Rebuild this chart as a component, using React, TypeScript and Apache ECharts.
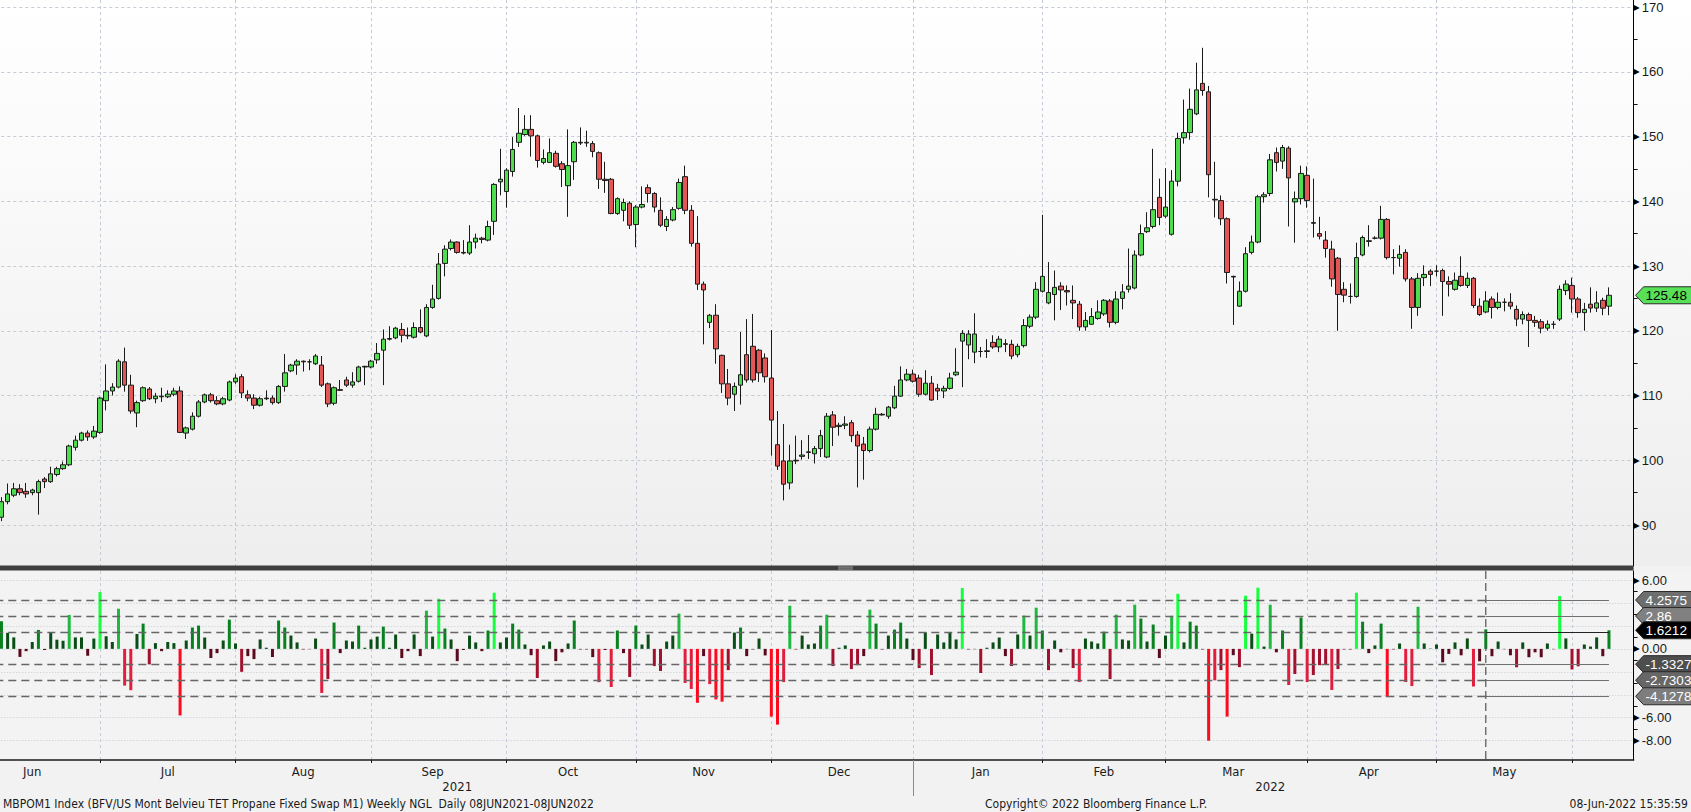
import React, { useEffect, useRef } from 'react';
import * as echarts from 'echarts';

// ---------- categories ----------
const START_DATE = '2021-06-08';
const CATEGORY_COUNT = 267;
function weekdays(start: string, count: number): string[] {
  const out: string[] = [];
  const d = new Date(start + 'T00:00:00Z');
  while (out.length < count) {
    const wd = d.getUTCDay();
    if (wd !== 0 && wd !== 6) out.push(d.toISOString().slice(0, 10));
    d.setUTCDate(d.getUTCDate() + 1);
  }
  return out;
}
const DATES = weekdays(START_DATE, CATEGORY_COUNT);

// ---------- price candles: [open, high, low, close] ----------
const OHLC: number[][] = [
  [90.6, 91.8, 90.2, 91.2], [91.2, 94.3, 90.6, 93.6], [93.6, 96.4, 93.2, 94.8], [94.6, 96.5, 94.3, 95.6], [95.6, 96.3, 94.6, 95.0],
  [95.2, 96.5, 94.2, 94.8], [95.0, 95.6, 94.6, 95.4], [95.0, 97.0, 91.6, 96.7], [97.1, 97.4, 95.7, 96.7], [96.7, 99.0, 96.5, 97.9],
  [97.8, 99.0, 97.5, 98.7], [98.7, 99.8, 98.5, 99.3], [99.3, 102.4, 99.1, 102.2], [102.0, 103.8, 101.5, 103.1], [103.1, 104.4, 102.9, 104.2],
  [104.2, 104.6, 103.0, 103.6], [103.6, 105.3, 103.3, 104.5], [104.3, 109.8, 104.1, 109.6], [109.2, 114.8, 107.7, 110.7], [110.7, 111.9, 110.0, 111.3],
  [111.3, 115.6, 111.1, 115.3], [115.2, 117.4, 110.6, 111.6], [111.6, 113.2, 107.2, 107.6], [107.3, 109.2, 105.1, 108.9], [109.2, 111.4, 109.0, 111.2],
  [111.0, 111.3, 109.3, 109.5], [109.5, 110.4, 108.8, 109.9], [109.9, 111.2, 109.0, 109.8], [109.8, 110.8, 109.6, 110.2], [110.2, 111.2, 109.9, 110.7],
  [110.7, 111.4, 104.2, 104.3], [104.2, 105.2, 103.3, 105.0], [104.8, 107.4, 104.6, 106.8], [106.8, 109.3, 106.6, 109.0], [109.0, 110.3, 108.8, 110.1],
  [110.1, 110.4, 108.9, 109.2], [109.2, 109.9, 108.5, 108.7], [108.7, 109.8, 108.5, 109.5], [109.3, 112.3, 109.1, 112.1], [112.1, 113.3, 111.8, 112.7],
  [112.9, 113.3, 109.6, 110.4], [110.1, 110.8, 109.1, 109.6], [109.6, 110.2, 107.9, 108.5], [108.5, 109.8, 108.3, 109.5], [109.5, 110.8, 109.3, 109.6],
  [109.6, 110.0, 108.6, 108.9], [108.9, 111.6, 108.7, 111.4], [111.4, 116.4, 110.6, 113.5], [113.8, 114.9, 113.6, 114.7], [114.7, 115.6, 113.2, 115.3],
  [115.3, 115.4, 113.7, 115.2], [115.2, 115.6, 113.9, 115.2], [114.9, 116.4, 114.7, 116.1], [114.7, 116.1, 111.3, 111.6], [111.8, 112.0, 108.2, 108.7],
  [108.8, 111.4, 108.5, 111.2], [110.9, 112.4, 110.7, 110.8], [112.4, 112.9, 111.3, 111.6], [111.6, 113.6, 111.2, 112.1], [112.2, 114.6, 112.0, 114.4],
  [114.4, 114.6, 111.6, 114.5], [114.4, 115.5, 114.2, 115.3], [115.5, 118.1, 114.9, 116.5], [117.0, 120.2, 111.6, 118.7], [118.7, 120.7, 118.5, 118.8],
  [118.9, 120.6, 118.7, 120.4], [120.2, 121.2, 118.2, 119.3], [119.3, 120.5, 118.7, 119.2], [119.0, 121.3, 118.8, 120.5], [120.5, 123.3, 119.6, 119.8],
  [119.2, 124.1, 119.0, 123.6], [123.6, 127.1, 123.4, 124.9], [125.0, 132.0, 124.8, 130.3], [130.4, 133.2, 128.4, 132.6], [132.7, 134.1, 132.4, 133.7],
  [133.7, 133.8, 131.9, 132.1], [132.1, 134.0, 131.8, 132.0], [132.0, 136.3, 131.7, 133.7], [133.7, 135.0, 132.7, 134.3], [134.3, 134.5, 133.5, 134.1],
  [134.0, 137.0, 133.8, 136.1], [136.9, 142.8, 134.8, 142.6], [143.0, 148.1, 140.9, 143.4], [141.5, 145.1, 139.0, 144.8], [144.6, 149.9, 143.8, 148.0],
  [149.1, 154.4, 148.4, 150.5], [150.3, 153.3, 150.1, 151.1], [151.1, 153.3, 146.9, 150.1], [150.1, 150.3, 145.2, 146.3], [146.0, 148.0, 145.7, 146.6],
  [146.0, 149.7, 145.9, 147.5], [147.4, 147.8, 145.2, 145.4], [145.8, 146.2, 142.2, 144.9], [142.4, 151.1, 137.6, 145.5], [146.1, 149.3, 143.3, 149.1],
  [149.1, 151.4, 148.7, 149.0], [149.0, 150.9, 148.4, 149.1], [148.9, 149.3, 146.8, 147.7], [147.5, 147.7, 141.9, 143.4], [143.4, 146.1, 141.3, 143.2],
  [143.4, 143.6, 138.0, 138.1], [138.1, 140.6, 137.9, 140.4], [138.6, 140.4, 136.9, 139.8], [139.7, 140.0, 135.7, 136.3], [136.4, 139.4, 132.9, 139.1],
  [139.1, 142.3, 138.9, 139.5], [142.1, 142.6, 139.8, 141.2], [141.2, 141.4, 138.3, 139.1], [138.6, 140.6, 136.0, 136.3], [136.1, 137.7, 135.4, 137.2],
  [137.1, 139.1, 136.9, 138.7], [138.9, 143.5, 138.7, 142.9], [143.8, 145.5, 138.0, 138.6], [138.6, 139.4, 133.0, 133.5], [133.5, 137.7, 126.3, 127.2],
  [127.2, 127.6, 117.9, 126.3], [121.3, 122.6, 120.4, 122.4], [122.4, 124.1, 114.9, 117.2], [116.2, 116.3, 110.4, 111.8], [111.8, 114.1, 108.5, 109.6],
  [110.2, 112.0, 107.6, 111.4], [111.6, 119.8, 108.6, 113.2], [116.3, 121.8, 112.0, 112.4], [117.6, 122.6, 112.0, 112.4], [117.0, 117.2, 112.1, 113.5],
  [115.8, 116.5, 112.0, 112.9], [112.7, 120.1, 100.7, 106.2], [102.4, 107.6, 98.5, 99.1], [99.9, 105.6, 93.8, 96.3], [96.5, 102.4, 95.5, 99.9],
  [100.0, 103.8, 99.4, 99.9], [100.6, 103.1, 100.1, 100.8], [101.2, 103.9, 100.2, 101.3], [101.0, 102.2, 99.5, 101.8], [101.8, 104.7, 100.5, 103.8],
  [100.5, 107.3, 100.3, 106.8], [107.0, 107.6, 102.2, 105.1], [105.2, 105.8, 103.8, 105.4], [105.4, 106.8, 104.8, 105.6], [105.8, 106.2, 102.8, 103.8],
  [103.9, 104.5, 95.8, 102.2], [102.5, 103.6, 97.0, 101.5], [101.5, 105.2, 101.2, 104.8], [104.8, 108.1, 104.6, 107.1], [107.1, 107.3, 106.9, 107.0],
  [106.8, 108.4, 106.4, 108.2], [108.1, 111.5, 107.9, 109.9], [109.9, 114.5, 109.8, 112.4], [112.4, 114.1, 112.2, 113.3], [113.3, 114.0, 112.0, 112.2],
  [112.7, 113.2, 109.8, 110.2], [110.2, 113.9, 110.0, 111.9], [111.9, 113.0, 109.2, 109.3], [111.1, 111.8, 109.3, 110.7], [110.7, 111.5, 109.6, 111.1],
  [111.1, 113.5, 110.9, 112.7], [113.2, 117.3, 113.0, 113.6], [118.4, 120.1, 111.3, 119.6], [117.8, 120.1, 115.6, 119.5], [116.7, 122.7, 115.0, 119.5],
  [116.8, 117.5, 115.9, 116.8], [116.8, 118.7, 115.8, 116.9], [118.2, 119.3, 117.2, 117.5], [117.5, 119.2, 116.7, 118.7], [118.0, 118.7, 116.7, 117.9],
  [117.9, 118.6, 115.6, 116.1], [116.3, 118.0, 115.9, 117.6], [117.7, 121.8, 117.4, 120.8], [120.7, 122.5, 120.4, 122.1], [122.1, 127.5, 121.8, 126.4],
  [126.1, 137.9, 125.9, 128.4], [124.3, 130.6, 124.1, 125.9], [125.6, 129.3, 121.6, 126.7], [126.9, 127.5, 123.2, 126.3], [126.2, 127.0, 123.9, 126.0],
  [124.7, 127.0, 121.8, 124.3], [124.1, 124.6, 120.0, 120.6], [120.6, 122.9, 120.0, 121.6], [121.0, 123.5, 120.9, 122.2], [121.9, 124.7, 121.7, 122.9],
  [122.6, 124.9, 122.3, 124.7], [124.6, 124.9, 120.5, 121.3], [121.3, 126.1, 121.0, 124.9], [125.0, 127.2, 123.3, 126.0], [126.4, 132.7, 125.9, 126.9],
  [126.6, 132.4, 126.4, 131.7], [131.7, 136.4, 131.5, 135.0], [135.3, 138.3, 135.1, 135.9], [136.1, 148.1, 135.8, 138.7], [140.6, 143.5, 136.3, 137.5],
  [137.7, 145.1, 137.4, 139.1], [134.9, 144.8, 134.7, 143.1], [143.1, 150.6, 142.3, 149.7], [149.8, 155.7, 148.9, 150.6], [150.6, 157.4, 149.5, 154.2],
  [153.5, 161.4, 153.3, 157.2], [158.2, 163.7, 156.3, 157.1], [156.9, 157.8, 140.6, 144.1], [140.3, 146.1, 137.5, 140.2], [140.1, 140.9, 136.3, 137.3],
  [137.3, 137.5, 127.3, 129.0], [128.4, 128.5, 120.9, 128.3], [123.8, 127.6, 123.7, 126.1], [126.1, 132.9, 125.9, 131.9], [132.1, 134.7, 131.8, 133.7],
  [133.7, 141.0, 133.5, 140.7], [140.7, 141.4, 139.8, 141.0], [141.2, 147.3, 140.8, 146.4], [147.5, 148.3, 144.6, 146.0], [146.2, 148.7, 145.0, 148.3],
  [148.2, 148.5, 136.1, 143.6], [139.9, 141.5, 133.6, 140.4], [140.4, 145.5, 139.5, 144.3], [144.0, 145.4, 139.0, 140.1], [136.7, 143.5, 134.4, 136.6],
  [135.0, 137.6, 134.1, 134.6], [134.0, 135.4, 131.3, 132.7], [132.6, 133.9, 126.8, 128.0], [131.2, 131.4, 120.0, 125.6], [126.4, 127.5, 124.4, 125.5],
  [125.3, 127.3, 124.2, 125.3], [125.3, 133.6, 125.1, 131.3], [131.7, 134.7, 131.5, 134.4], [133.8, 136.3, 133.0, 133.9], [134.3, 134.6, 134.1, 134.3],
  [134.3, 139.3, 134.1, 137.2], [137.2, 137.4, 131.0, 131.3], [131.3, 132.6, 128.7, 131.3], [131.2, 133.2, 129.9, 131.8], [132.1, 132.6, 127.6, 128.0],
  [128.0, 128.3, 120.3, 123.6], [123.6, 128.9, 122.3, 128.1], [128.2, 130.1, 126.9, 128.7], [129.2, 129.5, 126.9, 128.7], [129.2, 130.1, 128.4, 129.2],
  [129.3, 129.6, 122.3, 127.6], [127.6, 128.4, 125.3, 127.2], [126.4, 129.0, 126.2, 127.8], [128.4, 131.5, 126.8, 127.0], [127.0, 129.0, 126.6, 128.1],
  [128.1, 128.3, 123.5, 123.9], [123.8, 125.0, 122.3, 122.5], [122.9, 126.1, 122.7, 124.6], [124.9, 125.3, 121.9, 123.6], [123.6, 125.9, 123.3, 124.4],
  [124.4, 125.0, 123.0, 124.4], [124.4, 125.8, 123.3, 123.8], [123.3, 123.9, 120.7, 121.8], [121.8, 123.0, 121.0, 122.5], [122.5, 122.8, 117.5, 121.6],
  [121.6, 122.3, 120.6, 121.3], [121.4, 121.8, 119.6, 120.4], [120.4, 121.6, 120.0, 121.0], [121.0, 121.5, 120.3, 121.0], [121.8, 127.0, 121.5, 126.4],
  [126.2, 127.8, 125.5, 127.2], [127.0, 128.2, 122.8, 124.9], [124.9, 125.2, 122.0, 122.8], [122.8, 124.3, 120.0, 123.3], [124.1, 126.7, 122.8, 123.5],
  [123.5, 126.1, 122.9, 124.3], [124.7, 125.1, 122.4, 123.48], [123.8, 126.7, 122.4, 125.48],
];

// ---------- daily % change (lower panel) ----------
const CHANGE_PCT: number[] = [
  0.5, 2.4, 1.4, 1.0, -0.7, -0.2, 0.6, 1.65, -0.1, 1.4,
  0.8, 0.7, 2.96, 1.0, 1.0, -0.6, 0.9, 4.95, 1.1, 0.6,
  3.5, -3.2, -3.6, 1.3, 2.2, -1.35, 0.5, -0.2, 0.6, 0.5,
  -5.8, 0.73, 1.86, 2.03, 0.99, -0.8, -0.37, 0.73, 2.55, 0.47,
  -2.0, -0.63, -0.89, 0.82, 0.1, -0.71, 2.47, 1.86, 1.16, 0.56,
  -0.05, -0.03, 0.9, -3.84, -2.62, 2.29, -0.37, 0.73, 0.64, 2.03,
  0.1, 0.82, 1.07, 1.94, 0.1, 1.25, -0.8, -0.2, 1.25, -0.63,
  3.33, 1.07, 4.37, 1.77, 0.82, -1.07, -0.1, 1.16, 0.56, -0.2,
  1.6, 4.89, 0.56, 0.99, 2.2, 1.68, 0.38, -0.55, -2.54, 0.3,
  0.64, -1.07, -0.3, 0.47, 2.47, -0.05, -0.05, -0.72, -2.9, -0.1,
  -3.32, 1.6, -0.37, -2.45, 2.03, 0.38, 1.25, -1.5, -1.93, 0.64,
  1.16, 3.07, -2.97, -3.49, -4.7, -0.63, -3.07, -4.4, -4.6, -1.85,
  1.42, 1.86, -0.63, -0.05, 0.9, -0.57, -5.9, -6.6, -2.89, 3.76,
  -0.05, 1.16, 0.38, 0.47, 2.03, 2.98, -1.5, 0.1, 0.3, -1.76,
  -1.42, -0.63, 3.42, 2.2, -0.05, 1.16, 1.68, 2.29, 0.9, -0.98,
  -1.67, 1.45, -2.28, 1.25, 0.56, 1.42, 0.82, 5.3, -0.05, -0.03,
  -2.1, 0.1, 0.56, 0.99, -0.63, -1.5, 1.25, 2.9, 1.16, 3.59,
  1.6, -1.85, 0.73, -0.3, -0.03, -1.67, -2.89, 0.9, 0.64, 0.47,
  1.5, -2.63, 2.98, 0.82, 0.73, 3.85, 2.64, 0.64, 2.12, -0.8,
  1.16, 2.88, 4.8, 0.56, 2.37, 2.03, -0.05, -8.1, -2.74, -1.85,
  -5.9, -0.55, -1.59, 4.63, 1.33, 5.33, 0.2, 3.85, -0.3, 1.6,
  -3.15, -2.19, 2.73, -2.89, -2.28, -1.42, -1.36, -3.58, -1.76, -0.05,
  -0.05, 4.89, 2.37, -0.37, 0.3, 2.2, -4.2, -0.05, 0.47, -2.89,
  -3.24, 3.67, 0.47, 0.03, 0.38, -1.17, -0.44, 0.56, -0.56, 0.91,
  -3.28, -1.08, 1.7, -0.64, 0.64, -0.03, -0.56, -1.6, 0.56, -0.73,
  -0.3, -0.73, 0.47, -0.03, 4.6, 0.91, -1.79, -1.52, 0.38, 0.2,
  1.0, -0.64, 1.6212,
];

// ---------- levels, labels ----------
const PRICE_MIN = 90;
const PRICE_MAX = 170;
const PRICE_STEP = 10;
const CHANGE_MIN = -8;
const CHANGE_MAX = 6;
const CHANGE_STEP = 2;
const CHANGE_LABELS: Record<string, string> = { '6': '6.00', '0': '0.00', '-6': '-6.00', '-8': '-8.00' };
const SIGMA_LEVELS = [4.2575, 2.86, 1.4624, -1.3327, -2.7303, -4.1278];
const BAND_EDGES = [4.2575, 2.86, 1.4624, 0, -1.3327, -2.7303, -4.1278];
const BAND_COLORS = ['#14ff3c', '#20b93f', '#07821f', '#0b4d17', '#5c0b1f', '#a3102e', '#e21e3e', '#ff0a1c'];
const CHANGE_TAGS = [
  { value: 4.2575, text: '4.2575', fill: '#6e6e6e', color: '#ffffff' },
  { value: 2.86, text: '2.86', fill: '#808080', color: '#ffffff' },
  { value: 1.6212, text: '1.6212', fill: '#000000', color: '#ffffff' },
  { value: -1.3327, text: '-1.3327', fill: '#4e4e4e', color: '#ffffff' },
  { value: -2.7303, text: '-2.7303', fill: '#676767', color: '#ffffff' },
  { value: -4.1278, text: '-4.1278', fill: '#7d7d7d', color: '#ffffff' },
];
const LAST_PRICE = 125.48;
const LAST_PRICE_TEXT = '125.48';
const SIGNAL_START = 242;
const LAST_INDEX = OHLC.length - 1;
const MONTH_NAMES = ['Jun', 'Jul', 'Aug', 'Sep', 'Oct', 'Nov', 'Dec', 'Jan', 'Feb', 'Mar', 'Apr', 'May'];
const MONTH_LABEL_AT = [6, 28, 50, 71, 93, 115, 137, 160, 180, 201, 223, 245];
const YEAR_NAMES = ['2021', '2022'];
const YEAR_LABEL_AT = [75, 207];
const FOOTER_LEFT = 'MBPOM1 Index (BFV/US Mont Belvieu TET Propane Fixed Swap M1) Weekly NGL  Daily 08JUN2021-08JUN2022';
const FOOTER_MID = 'Copyright\u00a9 2022 Bloomberg Finance L.P.';
const FOOTER_RIGHT = '08-Jun-2022 15:35:59';

const MONTH_STARTS = new Set<number>();
DATES.forEach((d, i) => { if (i > 0 && d.slice(5, 7) !== DATES[i - 1].slice(5, 7)) MONTH_STARTS.add(i); });
const YEAR_START = DATES.findIndex((d) => d.startsWith('2022'));

// ---------- styling ----------
const W = 1691;
const H = 812;
const PLOT_LEFT = -4.7;
const PLOT_WIDTH = 1638.3;
const AXIS_X = PLOT_LEFT + PLOT_WIDTH;
const NUM_FONT = "'Liberation Sans', Arial, sans-serif";
const NARROW_FONT = "'DejaVu Sans Condensed', 'Liberation Sans Narrow', 'Liberation Sans', sans-serif";
const GRID_COLOR = '#c4cad6';

function bandColor(v: number): string {
  for (let k = 0; k < BAND_EDGES.length; k++) if (v >= BAND_EDGES[k]) return BAND_COLORS[k];
  return BAND_COLORS[BAND_COLORS.length - 1];
}

const axisRich = {
  t: { fontFamily: 'DejaVu Sans', fontSize: 8, color: '#000', padding: [0, 2, 0, 0] },
  n: { fontFamily: NUM_FONT, fontSize: 13, color: '#1a1a1a' },
};

function buildOption(): any {
  const hiddenX = (gridIndex: number) => ({
    type: 'category', gridIndex, data: DATES, boundaryGap: false, show: false,
  });
  const monthSplit = {
    show: true,
    interval: (i: number) => MONTH_STARTS.has(i),
    lineStyle: { color: GRID_COLOR, type: [3, 3], width: 1 },
  };
  const markData: any[] = [];
  SIGMA_LEVELS.forEach((v) => {
    markData.push([
      { coord: [DATES[0], v], lineStyle: { type: [8, 5], color: '#666666', width: 1.3 } },
      { coord: [DATES[SIGNAL_START], v] },
    ]);
    markData.push([
      { coord: [DATES[SIGNAL_START], v], lineStyle: { type: 'solid', color: v === 1.4624 ? '#222222' : '#707070', width: 1.2 } },
      { coord: [DATES[LAST_INDEX], v] },
    ]);
  });

  return {
    animation: false,
    backgroundColor: '#f2f2f2',
    grid: [
      { left: PLOT_LEFT, width: PLOT_WIDTH, top: 7, height: 518, containLabel: false, outerBoundsMode: 'none' },
      { left: PLOT_LEFT, width: PLOT_WIDTH, top: 580, height: 160.7, containLabel: false, outerBoundsMode: 'none' },
      { left: PLOT_LEFT, width: PLOT_WIDTH, top: 0, height: 566, containLabel: false, outerBoundsMode: 'none' },
      { left: PLOT_LEFT, width: PLOT_WIDTH, top: 571, height: 189, containLabel: false, outerBoundsMode: 'none' },
    ],
    xAxis: [
      hiddenX(0),
      hiddenX(1),
      {
        type: 'category', gridIndex: 2, data: DATES, boundaryGap: false,
        axisLine: { show: false }, axisTick: { show: false }, axisLabel: { show: false },
        splitLine: monthSplit,
      },
      {
        type: 'category', gridIndex: 3, data: DATES, boundaryGap: false, position: 'bottom',
        axisLine: { show: true, lineStyle: { color: '#1a1a1a', width: 1.5 } },
        axisTick: { show: true, interval: (i: number) => MONTH_STARTS.has(i), length: 3, lineStyle: { color: '#1a1a1a' } },
        axisLabel: {
          show: true, interval: (i: number) => MONTH_LABEL_AT.indexOf(i) >= 0,
          formatter: (_v: string, i: number) => MONTH_NAMES[MONTH_LABEL_AT.indexOf(i)] || '',
          margin: 5, fontSize: 13, fontFamily: NARROW_FONT, color: '#1a1a1a',
        },
        splitLine: monthSplit,
      },
      {
        type: 'category', gridIndex: 3, data: DATES, boundaryGap: false, position: 'bottom',
        axisLine: { show: false },
        axisTick: { show: true, interval: (i: number) => i === YEAR_START, length: 36, lineStyle: { color: '#8a8a8a' } },
        axisLabel: {
          show: true, interval: (i: number) => YEAR_LABEL_AT.indexOf(i) >= 0,
          formatter: (_v: string, i: number) => YEAR_NAMES[YEAR_LABEL_AT.indexOf(i)] || '',
          margin: 20, fontSize: 13, fontFamily: NARROW_FONT, color: '#1a1a1a',
        },
        splitLine: { show: false },
      },
    ],
    yAxis: [
      {
        type: 'value', gridIndex: 0, position: 'right', min: PRICE_MIN, max: PRICE_MAX, interval: PRICE_STEP,
        axisLine: { show: false }, axisTick: { show: false },
        minorTick: { show: true, splitNumber: 2, length: 4, lineStyle: { color: '#111' } },
        splitLine: { show: true, lineStyle: { color: GRID_COLOR, type: [3, 3], width: 1 } },
        axisLabel: { margin: 0, formatter: (v: number) => `{t|\u25B6}{n|${v}}`, rich: axisRich },
      },
      {
        type: 'value', gridIndex: 1, position: 'right', min: CHANGE_MIN, max: CHANGE_MAX, interval: CHANGE_STEP,
        axisLine: { show: false }, axisTick: { show: false },
        minorTick: { show: true, splitNumber: 2, length: 4, lineStyle: { color: '#111' } },
        splitLine: { show: true, lineStyle: { color: GRID_COLOR, type: [1, 2], width: 1 } },
        axisLabel: {
          margin: 0,
          formatter: (v: number) => (CHANGE_LABELS[String(v)] ? `{t|\u25B6}{n|${CHANGE_LABELS[String(v)]}}` : ''),
          rich: axisRich,
        },
      },
      {
        type: 'value', gridIndex: 2, position: 'right', min: 0, max: 1,
        axisLine: { show: true, lineStyle: { color: '#000', width: 1 } },
        axisTick: { show: false }, axisLabel: { show: false }, splitLine: { show: false },
      },
      {
        type: 'value', gridIndex: 3, position: 'right', min: 0, max: 1,
        axisLine: { show: true, lineStyle: { color: '#000', width: 1 } },
        axisTick: { show: false }, axisLabel: { show: false }, splitLine: { show: false },
      },
    ],
    series: [
      {
        type: 'candlestick', name: 'MBPOM1', xAxisIndex: 0, yAxisIndex: 0,
        data: OHLC.map(([o, h, l, c]) => [o, c, l, h]),
        barWidth: 5,
        itemStyle: { color: '#4fdc4f', color0: '#e35656', borderColor: '#1a1a1a', borderColor0: '#1a1a1a', borderWidth: 1 },
      },
      {
        type: 'bar', name: 'Change', xAxisIndex: 1, yAxisIndex: 1,
        data: CHANGE_PCT, barWidth: 3,
        itemStyle: { color: (p: any) => bandColor(p.value as number) },
        markLine: { silent: true, symbol: ['none', 'none'], label: { show: false }, animation: false, data: markData },
      },
    ],
  };
}

function tagShape(x0: number, y: number, h: number, fill: string, stroke: string, text: string, color: string, z: number) {
  const x1 = W + 10;
  return [
    {
      type: 'polygon', z, silent: true,
      shape: { points: [[x0, y], [x0 + 8, y - h / 2], [x1, y - h / 2], [x1, y + h / 2], [x0 + 8, y + h / 2]] },
      style: { fill, stroke, lineWidth: 1 },
    },
    {
      type: 'text', z: z + 1, silent: true, x: x0 + 10, y,
      style: { text, fill: color, fontSize: 13.5, fontFamily: NUM_FONT, verticalAlign: 'middle', align: 'left' },
    },
  ];
}

function buildGraphic(chart: echarts.ECharts): any[] {
  const els: any[] = [];
  els.push({
    type: 'rect', z: -100, silent: true,
    shape: { x: 0, y: 0, width: W, height: 566 },
    style: { fill: new echarts.graphic.LinearGradient(0, 0, 0, 1, [{ offset: 0, color: '#ffffff' }, { offset: 1, color: '#eeeeee' }]) },
  });
  els.push({ type: 'rect', z: -100, silent: true, shape: { x: 0, y: 571, width: W, height: 189 }, style: { fill: '#f3f3f3' } });
  els.push({ type: 'rect', z: 50, silent: true, shape: { x: 0, y: 565.5, width: AXIS_X, height: 5 }, style: { fill: '#3e3e3e' } });
  els.push({ type: 'rect', z: 51, silent: true, shape: { x: 838, y: 566.6, width: 15, height: 0.9 }, style: { fill: '#a8a8a8' } });
  els.push({ type: 'rect', z: 51, silent: true, shape: { x: 838, y: 568.6, width: 15, height: 0.9 }, style: { fill: '#a8a8a8' } });

  const sx = chart.convertToPixel({ xAxisIndex: 1 }, DATES[SIGNAL_START]) as number;
  els.push({
    type: 'line', z: 20, silent: true,
    shape: { x1: sx, y1: 571, x2: sx, y2: 760 },
    style: { stroke: '#555555', lineWidth: 1.2, lineDash: [8, 4] },
  });

  const py = chart.convertToPixel({ yAxisIndex: 0 }, LAST_PRICE) as number;
  els.push(...tagShape(AXIS_X + 2, py, 17, '#58e158', '#2a2a2a', LAST_PRICE_TEXT, '#000000', 60));

  CHANGE_TAGS.forEach((t, k) => {
    const y = chart.convertToPixel({ yAxisIndex: 1 }, t.value) as number;
    els.push(...tagShape(AXIS_X + 2, y, 17, t.fill, '#2a2a2a', t.text, t.color, 60 + k * 2));
  });

  const footStyle = { fontSize: 12, fontFamily: NARROW_FONT, fill: '#1a1a1a', verticalAlign: 'middle' };
  els.push({ type: 'text', z: 10, silent: true, x: 3, y: 804, style: { ...footStyle, text: FOOTER_LEFT, align: 'left' } });
  els.push({ type: 'text', z: 10, silent: true, x: 985, y: 804, style: { ...footStyle, text: FOOTER_MID, align: 'left' } });
  els.push({ type: 'text', z: 10, silent: true, x: 1688, y: 804, style: { ...footStyle, text: FOOTER_RIGHT, align: 'right' } });
  return els;
}

export default function App() {
  const ref = useRef<HTMLDivElement>(null);
  useEffect(() => {
    const el = ref.current;
    if (!el) return;
    const chart = echarts.init(el, undefined, { renderer: 'svg', width: W, height: H });
    chart.setOption(buildOption());
    chart.setOption({ graphic: buildGraphic(chart) });
    return () => chart.dispose();
  }, []);
  return <div ref={ref} style={{ position: 'fixed', left: 0, top: 0, width: W, height: H }} />;
}
